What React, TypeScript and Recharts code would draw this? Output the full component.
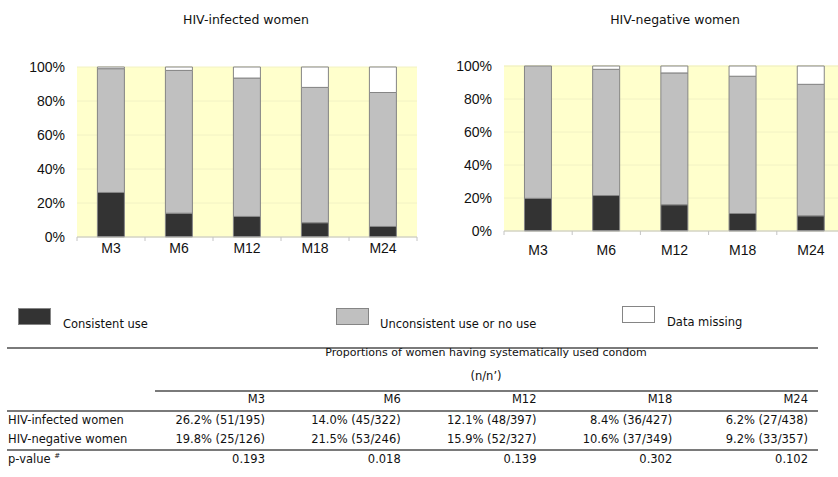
import React from 'react';
import { BarChart, Bar, XAxis, YAxis, CartesianGrid } from 'recharts';

const months = ['M3', 'M6', 'M12', 'M18', 'M24'];

// HIV-infected women (% of women)
const infectedConsistent = [26.2, 14.0, 12.1, 8.4, 6.2];
const infectedUnconsistent = [72.8, 84.0, 81.4, 79.6, 78.8];
const infectedMissing = [1.0, 2.0, 6.5, 12.0, 15.0];

// HIV-negative women (% of women)
const negativeConsistent = [19.8, 21.5, 15.9, 10.6, 9.2];
const negativeUnconsistent = [80.2, 76.5, 79.9, 83.2, 79.7];
const negativeMissing = [0, 2.0, 4.2, 6.2, 11.1];

const yTicks = [0, 20, 40, 60, 80, 100];

// table below the charts
const infectedRow = ['26.2% (51/195)', '14.0% (45/322)', '12.1% (48/397)', '8.4% (36/427)', '6.2% (27/438)'];
const negativeRow = ['19.8% (25/126)', '21.5% (53/246)', '15.9% (52/327)', '10.6% (37/349)', '9.2% (33/357)'];
const pValues = ['0.193', '0.018', '0.139', '0.302', '0.102'];

const COLORS = { consistent: '#333333', unconsistent: '#C0C0C0', missing: '#FFFFFF', stroke: '#858585', axis: '#C4C4C4' };
const AXIS_FONT = '"Liberation Sans", Arial, sans-serif';
const TEXT_FONT = '"DejaVu Sans", Verdana, sans-serif';

const buildRows = (c: number[], u: number[], m: number[]) =>
  months.map((month, i) => ({ month, consistent: c[i], unconsistent: u[i], missing: m[i] }));

const tickStyle = { fontFamily: AXIS_FONT, fontSize: 14, fill: '#111' };

// category label plus the small tick marks that sit between the categories
const CategoryTick = (props: any) => {
  const { x, y, payload, index, gap, halfBand } = props;
  const half = payload?.offset || halfBand;
  const y0 = y - gap;
  return (
    <g>
      <line x1={x - half} x2={x - half} y1={y0} y2={y0 + 4} stroke={COLORS.axis} />
      {index === months.length - 1 && <line x1={x + half} x2={x + half} y1={y0} y2={y0 + 4} stroke={COLORS.axis} />}
      <text x={x} y={y} dy="0.71em" textAnchor="middle" {...tickStyle}>{payload.value}</text>
    </g>
  );
};

interface PanelProps {
  data: { month: string; consistent: number; unconsistent: number; missing: number }[];
  width: number;
  height: number;
  margin: { top: number; right: number; bottom: number; left: number };
  yWidth: number;
  labelGap: number;
}

const StackPanel: React.FC<PanelProps> = ({ data, width, height, margin, yWidth, labelGap }) => {
  const halfBand = (width - margin.left - margin.right - yWidth) / months.length / 2;
  return (
    <BarChart width={width} height={height} data={data} margin={margin} barCategoryGap="30%" style={{ fontFamily: AXIS_FONT }}>
      <CartesianGrid horizontal vertical={false} fill="#FFFFCC" fillOpacity={1} stroke="#F2F2C4" />
      <XAxis
        dataKey="month"
        height={30}
        stroke={COLORS.axis}
        tickLine={false}
        tickSize={0}
        tickMargin={labelGap}
        interval={0}
        tick={<CategoryTick gap={labelGap} halfBand={halfBand} />}
      />
      <YAxis
        width={yWidth}
        domain={[0, 100]}
        ticks={yTicks}
        axisLine={false}
        tickLine={false}
        tickSize={6}
        tickMargin={6}
        tickFormatter={(v: number) => `${v}%`}
        tick={tickStyle}
      />
      <Bar dataKey="consistent" stackId="a" fill={COLORS.consistent} stroke={COLORS.stroke} strokeWidth={1} isAnimationActive={false} />
      <Bar dataKey="unconsistent" stackId="a" fill={COLORS.unconsistent} stroke={COLORS.stroke} strokeWidth={1} isAnimationActive={false} />
      <Bar dataKey="missing" stackId="a" fill={COLORS.missing} stroke={COLORS.stroke} strokeWidth={1} isAnimationActive={false} />
    </BarChart>
  );
};

const abs = (left: number, top: number, extra: React.CSSProperties = {}): React.CSSProperties => ({
  position: 'absolute', left, top, ...extra,
});

const LegendItem: React.FC<{ x: number; y: number; color: string; label: string; textX: number }> = ({ x, y, color, label, textX }) => (
  <>
    <div style={abs(x, y, { width: 33, height: 17, background: color, border: `1px solid ${COLORS.stroke}`, boxSizing: 'border-box' })} />
    <div style={abs(textX, y + 9, { fontSize: 11.5, whiteSpace: 'nowrap' })}>{label}</div>
  </>
);

const Rule: React.FC<{ x: number; y: number; w: number }> = ({ x, y, w }) => (
  <div style={abs(x, y, { width: w, height: 0, borderTop: '2px solid #7a7a7a' })} />
);

export default function App() {
  const colRight = months.map((_, i) => 265 + i * 135.75);
  const cell = (text: string, i: number, top: number, key: string) => (
    <div key={key} style={abs(colRight[i] - 150, top, { width: 150, textAlign: 'right', whiteSpace: 'nowrap' })}>{text}</div>
  );

  return (
    <div style={{ position: 'absolute', left: 0, top: 0, width: 838, height: 477, overflow: 'hidden', background: '#fff', fontFamily: TEXT_FONT, fontSize: 11.5, color: '#111' }}>
      <div style={abs(246, 12, { transform: 'translateX(-50%)', fontSize: 12.5, whiteSpace: 'nowrap' })}>HIV-infected women</div>
      <div style={abs(675, 12, { transform: 'translateX(-50%)', fontSize: 12.5, whiteSpace: 'nowrap' })}>HIV-negative women</div>

      <div style={abs(0, 0, { fontFamily: AXIS_FONT })}>
        <StackPanel
          data={buildRows(infectedConsistent, infectedUnconsistent, infectedMissing)}
          width={420}
          height={270}
          margin={{ top: 67, right: 3, bottom: 3, left: 0 }}
          yWidth={77}
          labelGap={6}
        />
      </div>
      <div style={abs(420, 0, { fontFamily: AXIS_FONT })}>
        <StackPanel
          data={buildRows(negativeConsistent, negativeUnconsistent, negativeMissing)}
          width={430}
          height={265}
          margin={{ top: 66, right: 5, bottom: 4, left: 0 }}
          yWidth={84}
          labelGap={14}
        />
      </div>

      <LegendItem x={18} y={308} color={COLORS.consistent} label="Consistent use" textX={63} />
      <LegendItem x={336} y={308} color={COLORS.unconsistent} label="Unconsistent use or no use" textX={380} />
      <LegendItem x={622} y={306} color={COLORS.missing} label="Data missing" textX={667} />

      <Rule x={7} y={347} w={811} />
      <div style={abs(486, 346, { transform: 'translateX(-50%)', whiteSpace: 'nowrap', fontSize: 11 })}>Proportions of women having systematically used condom</div>
      <div style={abs(486, 369, { transform: 'translateX(-50%)', whiteSpace: 'nowrap' })}>(n/n’)</div>
      <Rule x={155} y={390} w={663} />
      {months.map((m, i) => cell(m, i, 392, `h${i}`))}
      <Rule x={7} y={410} w={811} />
      <div style={abs(8, 413, { whiteSpace: 'nowrap' })}>HIV-infected women</div>
      {infectedRow.map((t, i) => cell(t, i, 413, `a${i}`))}
      <div style={abs(8, 432, { whiteSpace: 'nowrap' })}>HIV-negative women</div>
      {negativeRow.map((t, i) => cell(t, i, 432, `b${i}`))}
      <Rule x={7} y={449} w={811} />
      <div style={abs(8, 452, { whiteSpace: 'nowrap' })}>p-value <sup style={{ fontSize: 7 }}>#</sup></div>
      {pValues.map((t, i) => cell(t, i, 452, `p${i}`))}
    </div>
  );
}
